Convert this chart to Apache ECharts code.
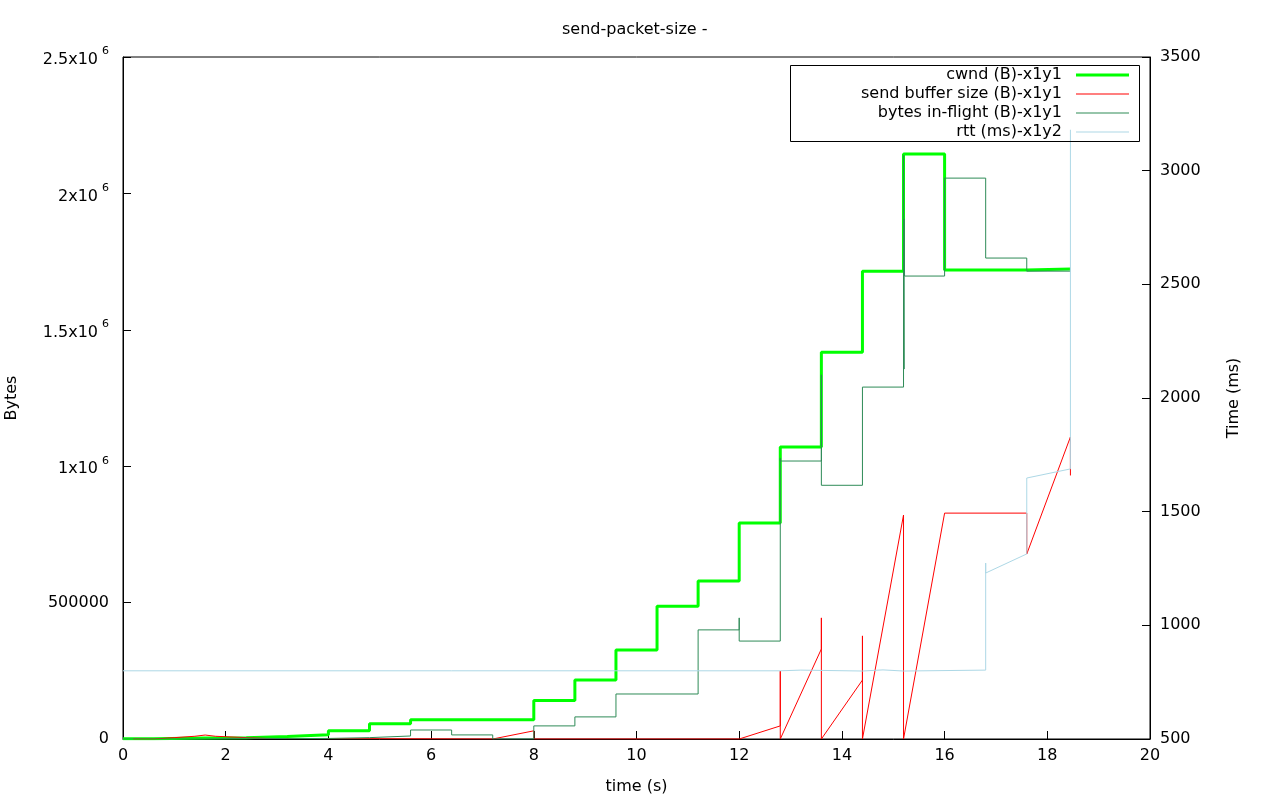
<!DOCTYPE html>
<html>
<head>
<meta charset="utf-8">
<title>send-packet-size</title>
<script src="https://cdn.jsdelivr.net/npm/echarts@6/dist/echarts.min.js"></script>
<style>
  html, body { margin: 0; padding: 0; background: #fff; }
  #main { width: 1280px; height: 800px; }
</style>
</head>
<body>
<div id="main"></div>
<script>
// time (s) and value pairs
var cwndT = [0, 0.6, 1.6, 2.4, 3.2, 4.0, 4.8, 5.6, 8.0, 8.8, 9.6, 10.4, 11.2, 12.0, 12.8, 13.6, 14.4, 15.2, 16.0, 17.6, 18.45];
var cwndB = [1000, 4000, 5000, 9000, 16000, 30000, 56000, 71000, 141000, 216000, 326000, 487000, 579000, 792000, 1070000, 1418000, 1715000, 2144000, 1719000, 1723000, 1723000];

var sendBufT = [0.2, 0.6, 0.6, 1.0, 1.0, 1.4, 1.4, 1.6, 1.6, 1.8, 1.8, 2.4, 2.4, 2.8, 2.8, 7.2, 8.0, 8.0, 12.0, 12.8, 12.8, 12.8, 13.6, 13.6, 13.6, 14.4, 14.4, 14.4, 15.2, 15.2, 16.0, 17.6, 17.6, 18.45, 18.45];
var sendBufB = [0, 0, 5000, 5000, 10000, 10000, 14500, 14500, 10000, 10000, 5000, 5000, 2000, 2000, 0, 0, 30000, 0, 0, 48000, 249000, 0, 330000, 444000, 0, 216000, 378000, 0, 821000, 0, 828000, 828000, 678000, 1107000, 966000];

var inFlightT = [0, 1.6, 2.4, 3.2, 4.0, 4.8, 5.6, 6.4, 7.2, 8.0, 8.8, 9.6, 11.2, 12.0, 12.0, 12.8, 12.8, 13.6, 13.6, 14.4, 15.2, 15.21, 15.21, 15.22, 16.0, 16.8, 17.6, 18.45];
var inFlightB = [0, 3000, 1500, 2000, 5000, 11000, 33000, 15000, 0, 48000, 81000, 165000, 400000, 444000, 359000, 1030000, 1019000, 1335000, 930000, 1290000, 2140000, 1356000, 1906000, 1697000, 2056000, 1763000, 1715000, 1715000];

var rttT = [0, 12.8, 12.8, 13.2, 13.2, 14.4, 14.4, 14.8, 14.8, 15.2, 15.2, 16.8, 16.8, 16.8, 17.6, 17.6, 18.45, 18.45];
var rttMs = [800, 800, 803, 803, 799, 799, 804, 804, 799, 799, 803, 803, 1274, 1230, 1314, 1648, 1688, 3180];

var seriesNames = ['cwnd (B)-x1y1', 'send buffer size (B)-x1y1', 'bytes in-flight (B)-x1y1', 'rtt (ms)-x1y2'];
var seriesColors = ['#00ff00', '#ff0000', '#2e8b57', '#add8e6'];
var seriesWidths = [3, 1, 1, 1];

function pairs(xs, ys) {
  return xs.map(function (x, i) { return [x, ys[i]]; });
}

var FONT = 'DejaVu Sans';
var chart = echarts.init(document.getElementById('main'));

function yLabel(v) {
  if (v === 0 || v === 500000) return String(v);
  return '{b|' + (v / 1e6) + 'x10}{s|6}';
}

var legends = seriesNames.map(function (n, i) {
  return {
    data: [{ name: n, icon: 'rect' }],
    right: 151,
    top: 67 + i * 19,
    align: 'right',
    orient: 'vertical',
    padding: 0,
    itemWidth: 53,
    itemHeight: seriesWidths[i],
    selectedMode: false,
    textStyle: { color: '#000', fontSize: 16, fontFamily: FONT, padding: [0, 9, 0, 0] }
  };
});

var option = {
  animation: false,
  backgroundColor: '#fff',
  textStyle: { fontFamily: FONT, color: '#000' },
  title: {
    text: 'send-packet-size -',
    left: 557,
    top: 17,
    textStyle: { fontSize: 16, fontWeight: 'normal', color: '#000', fontFamily: FONT }
  },
  legend: legends,
  graphic: [{
    type: 'rect',
    shape: { x: 790.5, y: 65.5, width: 349, height: 76 },
    style: { fill: 'none', stroke: '#000', lineWidth: 1 },
    z: 5
  }],
  grid: {
    left: 123, right: 130, top: 57, bottom: 61,
    show: true, borderColor: '#000', borderWidth: 1,
    outerBoundsMode: 'none'
  },
  xAxis: {
    type: 'value', min: 0, max: 20, interval: 2,
    name: 'time (s)', nameLocation: 'middle', nameGap: 40,
    nameTextStyle: { fontSize: 16, color: '#000' },
    axisLine: { onZero: false, lineStyle: { color: '#000' } },
    axisTick: { inside: true, length: 8, lineStyle: { color: '#000' } },
    axisLabel: { fontSize: 16, color: '#000', margin: 9 },
    splitLine: { show: false },
    z: 3
  },
  yAxis: [{
    type: 'value', min: 0, max: 2500000, interval: 500000,
    name: 'Bytes', nameLocation: 'middle', nameGap: 103, nameRotate: 90,
    nameTextStyle: { fontSize: 16, color: '#000' },
    axisLine: { show: true, lineStyle: { color: '#000' } },
    axisTick: { show: true, inside: true, length: 8, lineStyle: { color: '#000' } },
    axisLabel: {
      fontSize: 16, color: '#000', margin: 14,
      formatter: yLabel,
      rich: {
        b: { fontSize: 16, lineHeight: 22, verticalAlign: 'bottom', color: '#000' },
        s: { fontSize: 11, lineHeight: 10, verticalAlign: 'top', padding: [0, 0, 0, 4], color: '#000' }
      }
    },
    splitLine: { show: false },
    z: 3
  }, {
    type: 'value', min: 500, max: 3500, interval: 500, position: 'right',
    name: 'Time (ms)', nameLocation: 'middle', nameGap: 76, nameRotate: 90,
    nameTextStyle: { fontSize: 16, color: '#000' },
    axisLine: { show: true, lineStyle: { color: '#000' } },
    axisTick: { show: true, inside: true, length: 8, lineStyle: { color: '#000' } },
    axisLabel: { fontSize: 16, color: '#000', margin: 10, formatter: function (v) { return String(v); } },
    splitLine: { show: false },
    z: 3
  }],
  series: [{
    name: seriesNames[0], type: 'line', step: 'end', yAxisIndex: 0,
    data: pairs(cwndT, cwndB), showSymbol: false, color: seriesColors[0],
    lineStyle: { width: seriesWidths[0], color: seriesColors[0] }
  }, {
    name: seriesNames[1], type: 'line', yAxisIndex: 0,
    data: pairs(sendBufT, sendBufB), showSymbol: false, color: seriesColors[1],
    lineStyle: { width: seriesWidths[1], color: seriesColors[1] }
  }, {
    name: seriesNames[2], type: 'line', step: 'end', yAxisIndex: 0,
    data: pairs(inFlightT, inFlightB), showSymbol: false, color: seriesColors[2],
    lineStyle: { width: seriesWidths[2], color: seriesColors[2] }
  }, {
    name: seriesNames[3], type: 'line', yAxisIndex: 1,
    data: pairs(rttT, rttMs), showSymbol: false, color: seriesColors[3],
    lineStyle: { width: seriesWidths[3], color: seriesColors[3] }
  }]
};

chart.setOption(option);
</script>
</body>
</html>
